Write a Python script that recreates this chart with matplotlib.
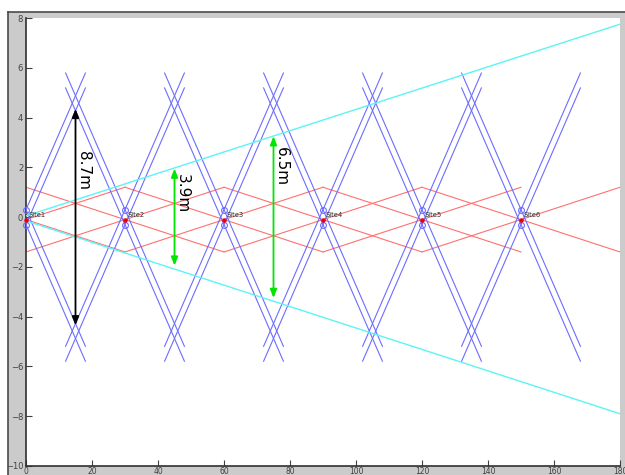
import matplotlib
matplotlib.use("Agg")
import matplotlib.pyplot as plt
from matplotlib.patches import Rectangle
from matplotlib.lines import Line2D

# Site layout along the corridor
site_x = [0, 30, 60, 90, 120, 150]
site_names = ["Site1", "Site2", "Site3", "Site4", "Site5", "Site6"]
antenna_dy = [0.3, -0.3]          # two antennas per mast
site_mark_y = -0.1                # mast centre marker

# Antenna beam edges (blue) and inter-site links (red)
beam_slope = 0.305
beam_reach = 18.0
link_reach = 30.0
link_rise = 1.3

# Outer coverage envelope (cyan)
edge_x = [0, 180]
edge_upper = [0.05, 7.75]
edge_lower = [-0.15, -7.9]

# Measured gaps
gap_x = [15, 45, 75]
gap_len = [8.7, 3.9, 6.5]
gap_label = ["8.7m", "3.9m", "6.5m"]
gap_color = ["black", "#00e600", "#00e600"]
label_top = [2.65, 1.75, 2.8]

xticks = list(range(0, 181, 20))
yticks = list(range(-10, 9, 2))

W, H = 625, 475
fig = plt.figure(figsize=(W / 100, H / 100), dpi=100)
fig.patch.set_facecolor("white")

# window panel and frame
fig.add_artist(Rectangle((8 / W, 0), 1 - 8 / W, 1 - 12 / H, transform=fig.transFigure,
                         facecolor="#cbcbcb", edgecolor="none", zorder=-10))
fig.add_artist(Line2D([7.5 / W, 7.5 / W], [0, 1 - 11.5 / H], transform=fig.transFigure,
                      color="#4a4a4a", lw=1.2))
fig.add_artist(Line2D([7.5 / W, 1], [1 - 11.5 / H, 1 - 11.5 / H], transform=fig.transFigure,
                      color="#4a4a4a", lw=1.2))

ax = fig.add_axes([26 / W, 1 - 466 / H, 594 / W, 448 / H])
ax.set_facecolor("white")

blue = "#6c6cff"
red = "#ff7070"
cyan = "#5cf4f4"

# inter-site links
for xs in site_x:
    for sgn in (1, -1):
        ax.plot([xs - link_reach, xs + link_reach],
                [site_mark_y - sgn * link_rise, site_mark_y + sgn * link_rise],
                color=red, lw=0.8, zorder=2)

# antenna beam edges
for xs in site_x:
    for dy in antenna_dy:
        for sgn in (1, -1):
            ax.plot([xs - beam_reach, xs + beam_reach],
                    [dy - sgn * beam_slope * beam_reach, dy + sgn * beam_slope * beam_reach],
                    color=blue, lw=0.8, zorder=3)

# coverage envelope
ax.plot(edge_x, edge_upper, color=cyan, lw=1.0, zorder=3)
ax.plot(edge_x, edge_lower, color=cyan, lw=1.0, zorder=3)

# masts
for xs, name in zip(site_x, site_names):
    ax.plot([xs] * len(antenna_dy), antenna_dy, linestyle="none", marker="o",
            markersize=4.2, markerfacecolor="none", markeredgecolor=blue,
            markeredgewidth=0.8, zorder=5, clip_on=False)
    ax.plot([xs], [site_mark_y], linestyle="none", marker="o", markersize=2.2,
            color="#ee0000", zorder=6, clip_on=False)
    ax.text(xs + 0.8, 0.07, name, fontsize=4.9, color="#2a2a2a",
            ha="left", va="center", zorder=7)

# gap dimension arrows
for x, L, lab, c, top in zip(gap_x, gap_len, gap_label, gap_color, label_top):
    ax.annotate("", xy=(x, L / 2), xytext=(x, -L / 2),
                arrowprops=dict(arrowstyle="<|-|>,head_length=0.5,head_width=0.2",
                                color=c, lw=1.3, mutation_scale=10,
                                shrinkA=0, shrinkB=0), zorder=8)
    ax.text(x + 2.5, top, lab, rotation=270, fontsize=11, color="black",
            ha="center", va="top", zorder=9)

ax.set_xlim(0, 180)
ax.set_ylim(-10, 8)
ax.set_xticks(xticks)
ax.set_yticks(yticks)
ax.tick_params(direction="in", length=4, width=0.8, colors="#404040",
               labelsize=6, pad=2)
ax.tick_params(axis="x", labelsize=5.5, pad=0.8)
for side in ("top", "right"):
    ax.spines[side].set_visible(False)
for side in ("left", "bottom"):
    ax.spines[side].set_color("#303030")
    ax.spines[side].set_linewidth(1.2)

fig.savefig("out.png", dpi=100, facecolor=fig.get_facecolor())
